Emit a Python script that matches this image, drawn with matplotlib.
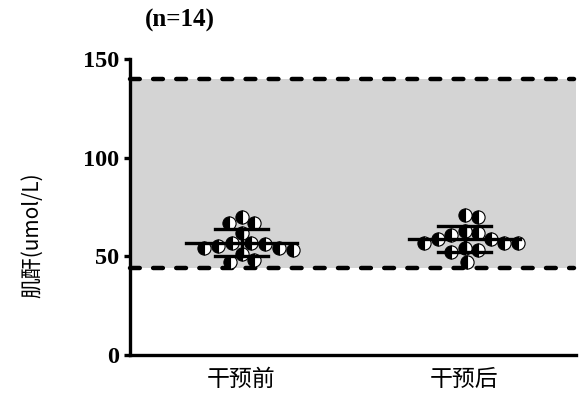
import numpy as np
import matplotlib
matplotlib.use("Agg")
from matplotlib import pyplot as plt

# creatinine values (umol/L)
before = [70, 67, 67, 62, 57, 57, 56, 55, 54, 54, 53, 51, 48, 47]
after = [71, 70, 63, 62, 61, 59, 59, 57, 57, 57, 54, 53, 52, 47]
groups = ["干预前", "干预后"]
ref_low, ref_high = 44, 140
title = "(n=14)"


def swarm(vals, xscale, yscale, d):
    # simple beeswarm in pixel space, returns x offsets in data units
    order = np.argsort(vals)[::-1]
    placed = []
    offs = np.zeros(len(vals))
    for i in order:
        y = vals[i] * yscale
        cands = [0.0]
        for px, py in placed:
            dy = abs(y - py)
            if dy < d:
                dx = np.sqrt(d * d - dy * dy)
                cands += [px + dx, px - dx]
        cands.sort(key=abs)
        for c in cands:
            if all((c - px) ** 2 + (y - py) ** 2 >= d * d - 1e-6 for px, py in placed):
                break
        placed.append((c, y))
        offs[i] = c / xscale
    return offs


fig = plt.figure(figsize=(5.82, 3.93), dpi=100)
ax = fig.add_axes([130 / 582, 1 - 355 / 393, 446 / 582, 296 / 393])
ax.set_xlim(-0.5, 1.5)
ax.set_ylim(0, 150)

ax.axhspan(ref_low, ref_high, color="#d4d4d4", zorder=0, lw=0)
for yv in (ref_low, ref_high):
    ax.plot([-0.5, 1.49], [yv, yv], color="black", lw=3.2, ls=(0, (2.2, 3.0)),
            dash_capstyle="round", zorder=1, clip_on=False)

xs = 446 / 2.0
ys = 296 / 150
for i, vals in enumerate([before, after]):
    vals = np.array(vals, dtype=float)
    offs = swarm(vals, xs, ys, 14)
    ax.plot(i + offs, vals, ls="none", marker="o", ms=9.5, mec="black", mew=0.8,
            mfc="black", mfcalt="white", fillstyle="left", zorder=3)
    m = vals.mean()
    sd = vals.std(ddof=1)
    ax.plot([i - 0.25, i + 0.25], [m, m], color="black", lw=2.4, zorder=4)
    ax.plot([i, i], [m - sd, m + sd], color="black", lw=2.4, zorder=4)
    for yv in (m - sd, m + sd):
        ax.plot([i - 0.12, i + 0.12], [yv, yv], color="black", lw=2.4, zorder=4)

for s in ("top", "right"):
    ax.spines[s].set_visible(False)
for s in ("left", "bottom"):
    ax.spines[s].set_linewidth(2.4)

ax.set_yticks([0, 50, 100, 150])
ax.set_yticklabels(["0", "50", "100", "150"], family="Liberation Serif",
                   fontweight="bold", fontsize=17.5)
ax.tick_params(axis="y", length=4.5, width=2.4, pad=3)
ax.set_xticks([0, 1])
ax.set_xticklabels(groups, family=["Noto Sans CJK SC", "DejaVu Sans"], fontsize=16.5)
ax.tick_params(axis="x", length=0, pad=9)

ax.set_ylabel("肌酐(umol/L)", family=["Noto Sans CJK SC", "DejaVu Sans"], fontsize=15)
ax.yaxis.set_label_coords(-0.195, 0.405)

fig.text(180 / 582, 1 - 20 / 393, title, family="Liberation Serif",
         fontweight="bold", fontsize=18, ha="center", va="center")

fig.savefig("out.png", dpi=100, facecolor="white")
